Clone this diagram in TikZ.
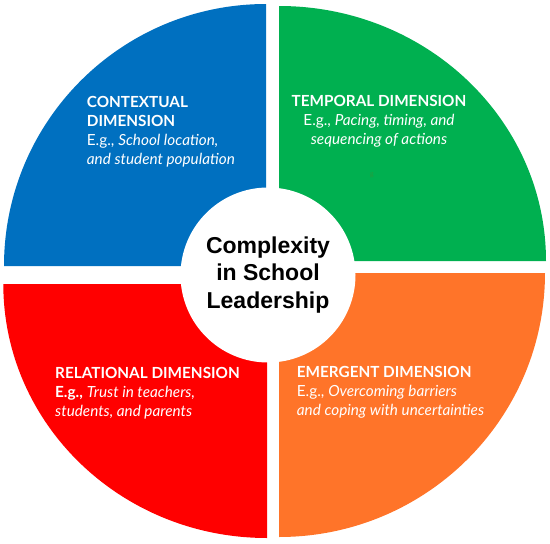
\documentclass[tikz,border=0pt]{standalone}
\usepackage{fontspec}
\setmainfont{Lato}
\newfontfamily\corefont{Liberation Sans}

\definecolor{ctxblue}{HTML}{0070C0}
\definecolor{tmpgreen}{HTML}{00B050}
\definecolor{relred}{HTML}{FF0000}
\definecolor{emgorange}{HTML}{FF7429}
\definecolor{markgreen}{HTML}{2A9A3C}

\tikzset{
  dimtext/.style={text=white, inner sep=0pt, font=\fontsize{15.3}{18.8}\selectfont},
}

\begin{document}
\begin{tikzpicture}[x=1pt,y=-1pt]
  \useasboundingbox (0,0) rectangle (550,544);

  % the four quarters
  \fill[ctxblue] (266,266) -- (4,266) arc[start angle=180, end angle=270, radius=262] -- cycle;
  \fill[tmpgreen] (279,261) -- (279,6) arc[start angle=270, end angle=360, x radius=267, y radius=255] -- cycle;
  \fill[relred] (267,284) -- (3.3,284) arc[start angle=180, end angle=90, x radius=263.7, y radius=254] -- cycle;
  \fill[emgorange] (279,273) -- (545,273) arc[start angle=0, end angle=90, x radius=266, y radius=264] -- cycle;

  % centre
  \node[circle, fill=white, inner sep=0pt, minimum size=175pt, align=center,
        font=\corefont\bfseries\fontsize{23}{27.7}\selectfont] (core) at (268,275)
    {Complexity\\in School\\Leadership};

  \node[dimtext, anchor=north west, align=left] (ctx) at (86.7,96.3)
    {\textbf{CONTEXTUAL}\\\textbf{DIMENSION}\\E.g., \textit{School location,}\\\textit{and student population}};
  \node[dimtext, anchor=north, align=center] (tmp) at (379,95.3)
    {\textbf{TEMPORAL DIMENSION}\\E.g., \textit{Pacing, timing, and}\\\textit{sequencing of actions}};
  \node[text=markgreen, inner sep=0pt, font=\fontsize{7}{7}\selectfont] (mark) at (372,175) {g};
  \node[dimtext, anchor=north west, align=left] (rel) at (55,367.5)
    {\textbf{RELATIONAL DIMENSION}\\\textbf{E.g.,} \textit{Trust in teachers,}\\\textit{students, and parents}};
  \node[dimtext, anchor=north west, align=left] (emg) at (296.7,366.3)
    {\textbf{EMERGENT DIMENSION}\\E.g., \textit{Overcoming barriers}\\\textit{and coping with uncertainties}};
\end{tikzpicture}
\end{document}
